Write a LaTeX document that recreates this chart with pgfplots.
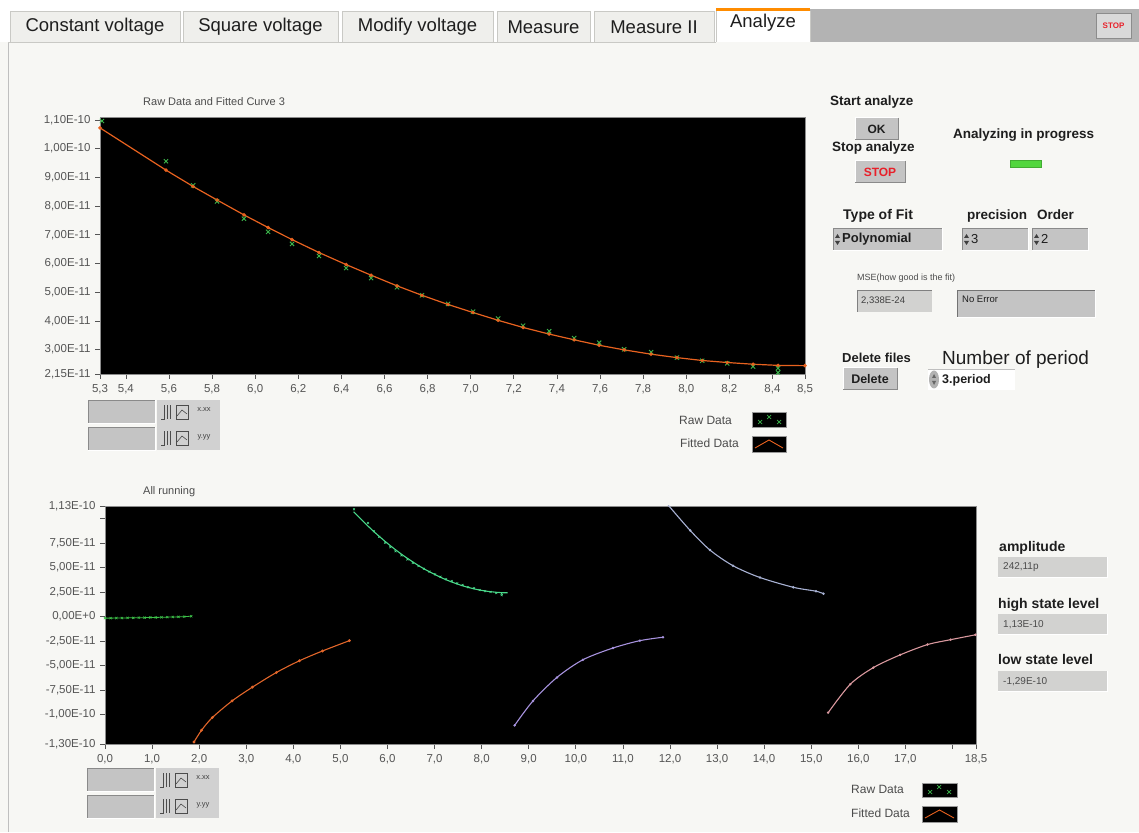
\documentclass[border=0pt]{standalone}
\usepackage{pgfplots}
\pgfplotsset{compat=1.18}
\usepackage{pgfplotstable}
\usepackage{fontspec}
\setmainfont{Liberation Sans}
\newcommand\fs[1]{\fontsize{#1}{#1}\selectfont}
\definecolor{panel}{HTML}{F7F7F4}
\definecolor{tabbg}{HTML}{EFEFEC}
\definecolor{tabline}{HTML}{C9C9C5}
\definecolor{bargray}{HTML}{B3B3B3}
\definecolor{ctrl}{HTML}{C4C4C4}
\definecolor{ctrldark}{HTML}{8A8A8A}
\definecolor{ind}{HTML}{D2D2D0}
\definecolor{tickgray}{HTML}{555555}
\definecolor{txt}{HTML}{1E1E1E}
\definecolor{rawgreen}{HTML}{3BB54A}
\definecolor{fitorange}{HTML}{E8621F}
\definecolor{fitdot}{HTML}{F2A040}
\definecolor{segA}{HTML}{3CBF48}
\definecolor{segB}{HTML}{E2662A}
\definecolor{segC}{HTML}{49D98A}
\definecolor{segD}{HTML}{A792DE}
\definecolor{segE}{HTML}{A8B2D4}
\definecolor{segF}{HTML}{D9989E}
\definecolor{led}{HTML}{52D63E}
\definecolor{stopred}{HTML}{E8202A}

% period 3, raw data (y in units of 1E-11)
\pgfplotstableread{
x y
5.289 10.96
5.586 9.56
5.712 8.72
5.823 8.16
5.948 7.56
6.060 7.10
6.171 6.68
6.296 6.26
6.422 5.84
6.538 5.49
6.658 5.17
6.774 4.89
6.895 4.59
7.011 4.32
7.127 4.08
7.243 3.83
7.364 3.64
7.480 3.40
7.596 3.24
7.712 3.01
7.837 2.91
7.957 2.72
8.074 2.61
8.190 2.52
8.310 2.41
8.426 2.35
8.426 2.20
}\rawtop
% period 3, fitted curve
\pgfplotstableread{
x y
5.280 10.72
5.586 9.25
5.712 8.68
5.823 8.21
5.948 7.69
6.060 7.25
6.171 6.83
6.296 6.38
6.422 5.96
6.538 5.59
6.658 5.22
6.774 4.89
6.895 4.57
7.011 4.29
7.127 4.02
7.243 3.77
7.364 3.54
7.480 3.34
7.596 3.15
7.712 2.99
7.837 2.84
7.957 2.72
8.074 2.62
8.190 2.55
8.310 2.49
8.426 2.45
8.551 2.44
}\fittop

\pgfplotsset{lv/.style={
  scale only axis, anchor=south west,
  axis background/.style={fill=black},
  axis line style={draw=black!45, line width=0.6pt},
  tick align=outside, xtick pos=left, ytick pos=left,
  major tick length=5pt,
  every tick/.style={draw=tickgray, line width=0.7pt},
  tick label style={font=\fs{11.5}, text=tickgray},
  xticklabel style={yshift=-2pt},
  yticklabel style={xshift=-1pt},
  clip=true,
}}

\newcommand\palette[1]{%
\begin{scope}[shift={#1}]
 \fill[ctrl] (0,27) rectangle (67,50);
 \draw[ctrldark,line width=0.8pt] (0,27)--(0,50)--(67,50);
 \draw[white,line width=0.8pt] (0,27)--(67,27)--(67,50);
 \fill[ctrl] (0,0) rectangle (67,23);
 \draw[ctrldark,line width=0.8pt] (0,0)--(0,23)--(67,23);
 \draw[white,line width=0.8pt] (0,0)--(67,0)--(67,23);
 \fill[black!18] (69,0) rectangle (132,50);
 \foreach \yy in {2,28}{
   \draw[black!70,line width=0.8pt] (73,\yy+3)--(76,\yy+3)--(76,\yy+17) (79,\yy+3)--(79,\yy+17) (82,\yy+3)--(82,\yy+17);
   \draw[black!70,line width=0.7pt] (88,\yy+3) rectangle (100,\yy+17);
   \draw[black!70,line width=0.6pt] (89,\yy+6)--(94,\yy+12)--(99,\yy+8);
 }
 \node[inner sep=0,font=\fs{7.5},text=black!75] at (116,40) {x.xx};
 \node[inner sep=0,font=\fs{7.5},text=black!75] at (116,13) {y.yy};
\end{scope}}

\begin{document}
\begin{tikzpicture}[x=1pt,y=1pt]
\useasboundingbox (0,0) rectangle (1139,832);
\fill[white] (0,0) rectangle (1139,832);
\fill[panel] (0,0) rectangle (1139,790);
\draw[black!25,line width=0.8pt] (8,0)--(8,790);
\draw[tabline,line width=0.8pt] (8,790)--(716,790);

% ---------- tab bar ----------
\fill[bargray] (810,790) rectangle (1139,823);
\foreach \a/\b/\t in {10/180/Constant voltage,183/338/Square voltage,342/493/Modify voltage,497/590/Measure,594/714/Measure II}{
  \fill[tabbg] (\a,790) rectangle (\b,821);
  \draw[tabline,line width=0.8pt] (\a,790)--(\a,821)--(\b,821)--(\b,790);
  \node[inner sep=0,font=\fs{18.5},text=txt] at ({(\a+\b)/2},805) {\t};
}
\fill[white] (716,790) rectangle (810,823);
\fill[orange!90!yellow] (716,821) rectangle (810,824);
\draw[tabline,line width=0.8pt] (716,790)--(716,821) (810,790)--(810,821);
\node[inner sep=0,font=\fs{18.5},text=txt] at (763,809) {Analyze};
% STOP button top right
\fill[black!15] (1096,794) rectangle (1131,819);
\draw[black!45,line width=0.8pt] (1096,794) rectangle (1131,819);
\node[inner sep=0,font=\bfseries\fs{8},text=stopred] at (1113.5,806.5) {STOP};

% ---------- titles ----------
\node[anchor=west,inner sep=0,font=\fs{11},text=black!70] at (143,730) {Raw Data and Fitted Curve 3};
\node[anchor=west,inner sep=0,font=\fs{11},text=black!70] at (143,340) {All running};

% ---------- top graph ----------
\begin{axis}[lv, at={(100pt,458pt)}, width=705pt, height=257pt,
  xmin=5.28, xmax=8.551, ymin=2.15, ymax=11.1,
  xtick={5.28,5.4,5.6,5.8,6.0,6.2,6.4,6.6,6.8,7.0,7.2,7.4,7.6,7.8,8.0,8.2,8.4,8.551},
  xticklabels={{5,3},{5,4},{5,6},{5,8},{6,0},{6,2},{6,4},{6,6},{6,8},{7,0},{7,2},{7,4},{7,6},{7,8},{8,0},{8,2},{8,4},{8,5}},
  ytick={2.15,3,4,5,6,7,8,9,10,11},
  yticklabels={{2,15E-11},{3,00E-11},{4,00E-11},{5,00E-11},{6,00E-11},{7,00E-11},{8,00E-11},{9,00E-11},{1,00E-10},{1,10E-10}},
]
\addplot[only marks, mark=x, mark size=3pt, rawgreen, mark options={line width=0.9pt}] table {\rawtop};
\addplot[fitorange, line width=1.2pt, mark=*, mark size=1.1pt, mark options={fill=fitdot, draw=none}] table {\fittop};
\end{axis}

% ---------- bottom graph ----------
\begin{axis}[lv, at={(105pt,88pt)}, width=871pt, height=238pt,
  xmin=0, xmax=18.5, ymin=-13, ymax=11.3,
  xtick={0,1,2,3,4,5,6,7,8,9,10,11,12,13,14,15,16,17,18,18.5},
  xticklabels={{0,0},{1,0},{2,0},{3,0},{4,0},{5,0},{6,0},{7,0},{8,0},{9,0},{10,0},{11,0},{12,0},{13,0},{14,0},{15,0},{16,0},{17,0},{},{18,5}},
  ytick={-13,-10,-7.5,-5,-2.5,0,2.5,5,7.5,10,11.3},
  yticklabels={{-1,30E-10},{-1,00E-10},{-7,50E-11},{-5,00E-11},{-2,50E-11},{0,00E+0},{2,50E-11},{5,00E-11},{7,50E-11},{},{1,13E-10}},
]
% period 0 (flat)
\addplot[segA, line width=0.8pt, mark=x, mark size=1.6pt, mark options={line width=0.6pt}] coordinates {
(0.00,-0.15) (0.12,-0.15) (0.24,-0.14) (0.36,-0.14) (0.48,-0.12) (0.60,-0.12) (0.72,-0.10) (0.84,-0.10)
(0.96,-0.08) (1.08,-0.08) (1.20,-0.06) (1.32,-0.05) (1.44,-0.03) (1.56,-0.02) (1.68,0.00) (1.83,0.05)};
% period 1 (rising)
\addplot[segB, line width=1.1pt, smooth, mark=*, mark size=0.8pt] coordinates {
(1.89,-12.8) (2.05,-11.6) (2.28,-10.3) (2.70,-8.6) (3.13,-7.2) (3.64,-5.7) (4.13,-4.5) (4.62,-3.5) (5.19,-2.45)};
% period 2 = the period shown above
\addplot[segC, line width=1.1pt] table {\fittop};
\addplot[only marks, segC, mark=x, mark size=1.4pt, mark options={line width=0.5pt}] table {\rawtop};
% period 3 (rising)
\addplot[segD, line width=1.1pt, smooth, mark=*, mark size=0.6pt] coordinates {
(8.70,-11.1) (9.09,-8.6) (9.60,-6.2) (10.15,-4.4) (10.79,-3.2) (11.36,-2.45) (11.85,-2.1)};
% period 4 (falling)
\addplot[segE, line width=1.1pt, smooth, mark=*, mark size=0.6pt] coordinates {
(11.96,11.4) (12.43,8.8) (12.85,6.8) (13.34,5.2) (13.91,4.0) (14.62,3.0) (15.10,2.6) (15.26,2.35)};
% period 5 (rising)
\addplot[segF, line width=1.1pt, smooth, mark=*, mark size=0.6pt] coordinates {
(15.36,-9.8) (15.83,-6.9) (16.32,-5.2) (16.89,-3.9) (17.47,-2.85) (17.96,-2.35) (18.49,-1.85)};
\end{axis}

% ---------- graph palettes ----------
\palette{(88,382)}
\palette{(87,14)}

% ---------- plot legends ----------
\node[anchor=west,inner sep=0,font=\fs{12},text=black!70] at (679,412) {Raw Data};
\node[anchor=west,inner sep=0,font=\fs{12},text=black!70] at (680,389) {Fitted Data};
\fill[black] (752,405) rectangle (786,420);
\draw[black!40] (752,405) rectangle (786,420);
\draw[rawgreen,line width=0.7pt] (758,408)--(762,412) (758,412)--(762,408) (767,413)--(771,417) (767,417)--(771,413) (777,408)--(781,412) (777,412)--(781,408);
\fill[black] (752,380) rectangle (786,396);
\draw[black!40] (752,380) rectangle (786,396);
\draw[fitorange,line width=0.9pt] (755,384)--(769,392)--(783,384);

\node[anchor=west,inner sep=0,font=\fs{12},text=black!70] at (851,43) {Raw Data};
\node[anchor=west,inner sep=0,font=\fs{12},text=black!70] at (851,19) {Fitted Data};
\fill[black] (922,35) rectangle (957,49);
\draw[black!40] (922,35) rectangle (957,49);
\draw[rawgreen,line width=0.7pt] (928,38)--(932,42) (928,42)--(932,38) (937,43)--(941,47) (937,47)--(941,43) (947,38)--(951,42) (947,42)--(951,38);
\fill[black] (922,10) rectangle (957,26);
\draw[black!40] (922,10) rectangle (957,26);
\draw[fitorange,line width=0.9pt] (925,14)--(939.5,22)--(954,14);

% ---------- right panel: analysis controls ----------
\node[anchor=west,inner sep=0,font=\bfseries\fs{13.5},text=txt] at (830,730) {Start analyze};
\fill[ctrl] (855,692) rectangle (898,714);
\draw[white,line width=1pt] (855,692)--(855,714)--(898,714);
\draw[ctrldark,line width=1pt] (855,692)--(898,692)--(898,714);
\node[inner sep=0,font=\bfseries\fs{12},text=txt] at (876.5,703) {OK};
\node[anchor=west,inner sep=0,font=\bfseries\fs{13.5},text=txt] at (832,684) {Stop analyze};
\fill[ctrl] (855,649) rectangle (905,671);
\draw[white,line width=1pt] (855,649)--(855,671)--(905,671);
\draw[ctrldark,line width=1pt] (855,649)--(905,649)--(905,671);
\node[inner sep=0,font=\bfseries\fs{12},text=stopred] at (880,660) {STOP};
\node[anchor=west,inner sep=0,font=\bfseries\fs{13.5},text=txt] at (953,697) {Analyzing in progress};
\fill[led!80!black] (1010,664) rectangle (1042,672);
\fill[led] (1011,665) rectangle (1041,671);

\node[anchor=base west,inner sep=0,font=\bfseries\fs{14},text=txt] at (843,612) {Type of Fit};
\node[anchor=base west,inner sep=0,font=\bfseries\fs{13.5},text=txt] at (967,612) {precision};
\node[anchor=base west,inner sep=0,font=\bfseries\fs{13.5},text=txt] at (1037,612) {Order};
\foreach \a/\b/\t/\f in {833/942/Polynomial/\bfseries,962/1028/3/,1032/1088/2/}{
  \fill[ctrl] (\a,582) rectangle (\b,604);
  \draw[ctrldark,line width=0.9pt] (\a,582)--(\a,604)--(\b,604);
  \draw[white,line width=0.9pt] (\a,582)--(\b,582)--(\b,604);
  \fill[black!75] (\a+2,594)--(\a+7,594)--(\a+4.5,598)--cycle;
  \fill[black!75] (\a+2,591)--(\a+7,591)--(\a+4.5,587)--cycle;
  \node[anchor=west,inner sep=0,font=\f\fs{13},text=txt] at (\a+9,593) {\t};
}
\node[anchor=west,inner sep=0,font=\fs{9},text=black!70] at (857,554) {MSE(how good is the fit)};
\fill[ind] (857,520) rectangle (932,542);
\draw[black!50,line width=0.8pt] (857,520)--(857,542)--(932,542);
\node[anchor=west,inner sep=0,font=\fs{9.5},text=black!75] at (861,531) {2,338E-24};
\fill[ctrl] (957,515) rectangle (1095,542);
\draw[black!55,line width=0.8pt] (957,515)--(957,542)--(1095,542);
\draw[white,line width=0.8pt] (957,515)--(1095,515)--(1095,542);
\node[anchor=west,inner sep=0,font=\fs{9.5},text=txt] at (962,533) {No Error};

\node[anchor=base west,inner sep=0,font=\bfseries\fs{13},text=txt] at (842,469) {Delete files};
\node[anchor=base west,inner sep=0,font=\fs{19},text=txt] at (942,467) {Number of period};
\fill[ctrl] (843,442) rectangle (897,464);
\draw[white,line width=1pt] (843,442)--(843,464)--(897,464);
\draw[ctrldark,line width=1pt] (843,442)--(897,442)--(897,464);
\node[inner sep=0,font=\bfseries\fs{12.5},text=txt] at (870,453) {Delete};
\fill[white] (928,442) rectangle (1015,463);
\draw[black!25,line width=0.8pt] (928,463)--(1015,463);
\fill[black!30] (934,452.5) ellipse (5 and 9);
\fill[black!60] (932,454)--(936,454)--(934,458)--cycle;
\fill[black!60] (932,451)--(936,451)--(934,447)--cycle;
\node[anchor=west,inner sep=0,font=\bfseries\fs{12.5},text=txt] at (942,452) {3.period};

% ---------- right panel: level indicators ----------
\node[anchor=base west,inner sep=0,font=\bfseries\fs{14},text=txt] at (999,280) {amplitude};
\node[anchor=base west,inner sep=0,font=\bfseries\fs{14},text=txt] at (998,223) {high state level};
\node[anchor=base west,inner sep=0,font=\bfseries\fs{14},text=txt] at (998,167) {low state level};
\foreach \yb/\t in {254/{242,11p},197/{1,13E-10},140/{-1,29E-10}}{
  \fill[ind] (998,\yb) rectangle (1107,\yb+21);
  \draw[white,line width=1pt] (998,\yb)--(1107,\yb)--(1107,\yb+21);
  \node[anchor=west,inner sep=0,font=\fs{10},text=black!70] at (1003,\yb+10.5) {\t};
}
\end{tikzpicture}
\end{document}
